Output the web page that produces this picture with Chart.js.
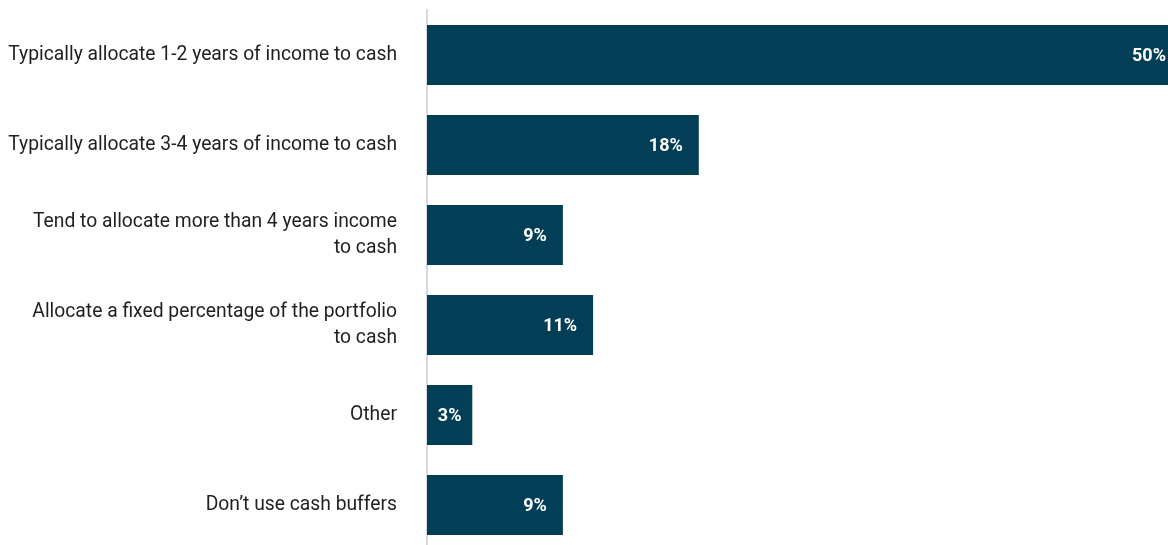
<!DOCTYPE html>
<html>
<head>
<meta charset="utf-8">
<script src="https://cdn.jsdelivr.net/npm/chart.js@4"></script>
<style>
  html, body { margin: 0; padding: 0; background: #fff; overflow: hidden; }
  #wrap { width: 1168px; height: 545px; overflow: hidden; }
</style>
</head>
<body>
<div id="wrap"><canvas id="monGraphique" width="1190" height="552"></canvas></div>
<script>
// Catégories (libellés sur plusieurs lignes si besoin)
const categories = [
    'Typically allocate 1-2 years of income to cash',
    'Typically allocate 3-4 years of income to cash',
    ['Tend to allocate more than 4 years income', 'to cash'],
    ['Allocate a fixed percentage of the portfolio', 'to cash'],
    'Other',
    'Don\u2019t use cash buffers'
];

// Pourcentages de répondants
const valeurs = [50, 18, 9, 11, 3, 9];

const couleurBarre = '#023f57';

// Affiche la valeur en blanc au bout de chaque barre
const labelsValeurs = {
    id: 'labelsValeurs',
    afterDatasetsDraw(chart) {
        const ctx = chart.ctx;
        const meta = chart.getDatasetMeta(0);
        ctx.save();
        ctx.font = 'bold 18px Roboto';
        ctx.fillStyle = '#ffffff';
        ctx.textBaseline = 'middle';
        meta.data.forEach((bar, i) => {
            const texte = valeurs[i] + '%';
            const largeurTexte = ctx.measureText(texte).width;
            const largeurBarre = bar.x - bar.base;
            if (largeurBarre < largeurTexte + 32) {
                ctx.textAlign = 'center';
                ctx.fillText(texte, (bar.x + bar.base) / 2, bar.y + 1);
            } else {
                ctx.textAlign = 'right';
                ctx.fillText(texte, bar.x - 16, bar.y + 1);
            }
        });
        ctx.restore();
    }
};

const ctx = document.getElementById('monGraphique').getContext('2d');
const myChart = new Chart(ctx, {
    type: 'bar',
    data: {
        labels: categories,
        datasets: [{
            data: valeurs,
            backgroundColor: couleurBarre,
            borderWidth: 0,
            categoryPercentage: 1,
            barPercentage: 0.667
        }]
    },
    options: {
        indexAxis: 'y',
        responsive: false,
        animation: false,
        layout: { padding: { top: 10, right: 8, bottom: 2, left: 0 } },
        plugins: {
            legend: { display: false },
            tooltip: { enabled: false }
        },
        scales: {
            x: {
                display: false,
                min: 0,
                max: 50
            },
            y: {
                grid: { display: false },
                border: { display: true, color: '#d9d9e6', width: 2 },
                ticks: {
                    padding: 22,
                    color: '#1f1f1f',
                    font: { family: 'Roboto', size: 19.3, lineHeight: 1.35 }
                },
                afterFit(scale) {
                    // largeur fixe et pas de marge verticale due aux libellés
                    scale.width = 427;
                    scale.paddingTop = 0;
                    scale.paddingBottom = 0;
                }
            }
        }
    },
    plugins: [labelsValeurs]
});
</script>
</body>
</html>
